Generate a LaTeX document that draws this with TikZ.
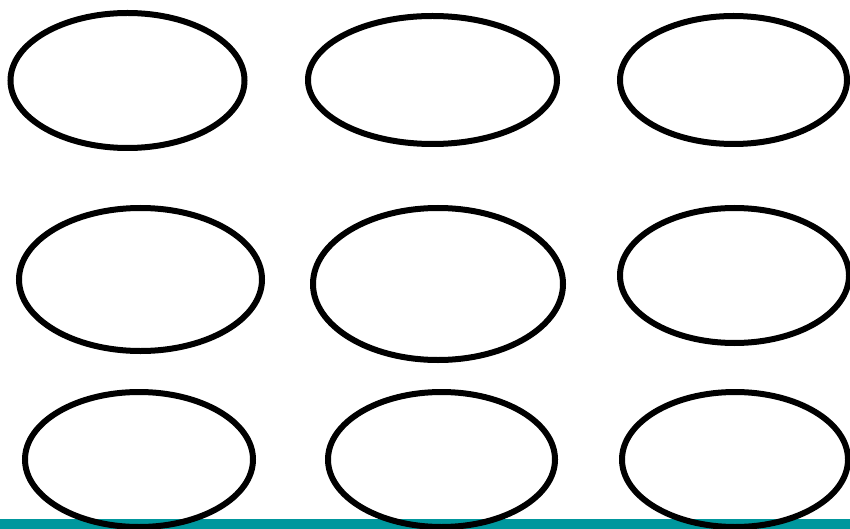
\documentclass[tikz,border=0pt]{standalone}
\usepackage{tikz}
\usetikzlibrary{shapes.geometric}
\definecolor{barteal}{HTML}{00979D}

\begin{document}
\begin{tikzpicture}[x=1pt, y=-1pt,
    oval/.style={draw=black, ellipse, line width=6pt, inner sep=0pt},
]
    \useasboundingbox (0,0) rectangle (850,529);
    \fill[barteal] (0,519) rectangle (850,529);

    % top row
    \node[oval, minimum width=234pt, minimum height=135pt] (e11) at (127.5,80.5) {};
    \node[oval, minimum width=249pt, minimum height=128pt] (e12) at (432.5,80) {};
    \node[oval, minimum width=227pt, minimum height=128pt] (e13) at (733.5,80) {};

    % middle row
    \node[oval, minimum width=243pt, minimum height=143pt] (e21) at (140.5,279.5) {};
    \node[oval, minimum width=250pt, minimum height=152pt] (e22) at (438,284) {};
    \node[oval, minimum width=229pt, minimum height=135pt] (e23) at (734.5,275.5) {};

    % bottom row
    \node[oval, minimum width=228pt, minimum height=135pt] (e31) at (139,459.5) {};
    \node[oval, minimum width=227pt, minimum height=135pt] (e32) at (441.5,459.5) {};
    \node[oval, minimum width=226pt, minimum height=135pt] (e33) at (735,459.5) {};
\end{tikzpicture}
\end{document}
